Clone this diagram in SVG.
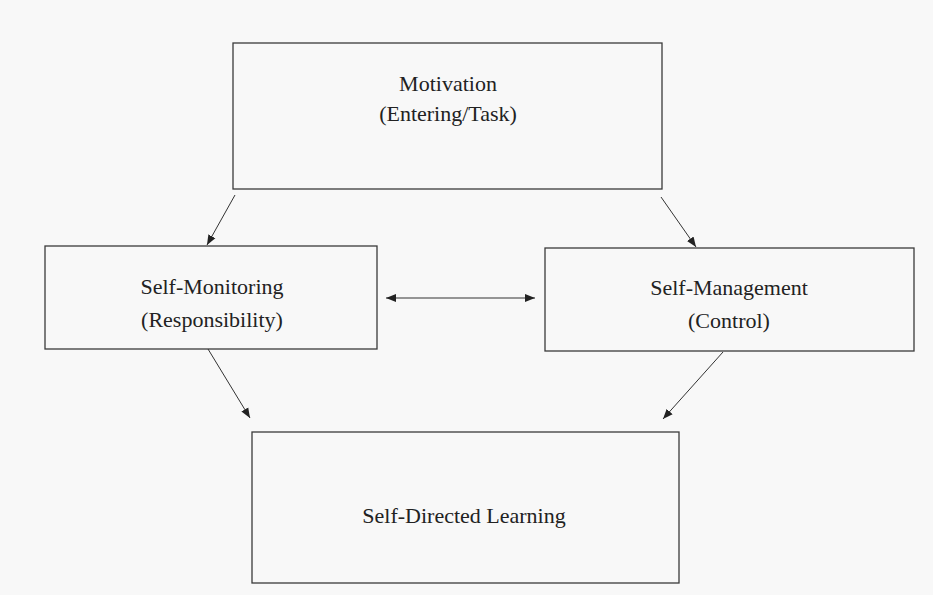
<svg xmlns="http://www.w3.org/2000/svg" width="933" height="595" viewBox="0 0 933 595">
<style>
.box{fill:none;stroke:#3a3a3a;stroke-width:1.3}
.t{font-family:"Liberation Serif","Times New Roman",serif;font-size:22px;fill:#222;text-anchor:middle}
.c{stroke:#333;stroke-width:1;fill:none;marker-end:url(#ah)}
</style>
<defs>
<marker id="ah" viewBox="0 0 10 10" refX="10" refY="5" markerWidth="10" markerHeight="10" markerUnits="userSpaceOnUse" orient="auto-start-reverse">
<path d="M0,1 L10,5 L0,9 z" fill="#222"/>
</marker>
</defs>
<rect width="933" height="595" fill="#f8f8f8"/>
<g id="motivation">
<rect class="box" x="233" y="43" width="429" height="146"/>
<text class="t" x="448" y="91">Motivation</text>
<text class="t" x="448" y="121">(Entering/Task)</text>
</g>
<g id="self-monitoring">
<rect class="box" x="45" y="246" width="332" height="103"/>
<text class="t" x="212" y="294">Self-Monitoring</text>
<text class="t" x="212" y="327">(Responsibility)</text>
</g>
<g id="self-management">
<rect class="box" x="545" y="248" width="369" height="103"/>
<text class="t" x="729" y="295">Self-Management</text>
<text class="t" x="729" y="328">(Control)</text>
</g>
<g id="self-directed">
<rect class="box" x="252" y="432" width="427" height="151"/>
<text class="t" x="464" y="523">Self-Directed Learning</text>
</g>
<g id="connectors">
<line class="c" x1="235" y1="195" x2="207" y2="245"/>
<line class="c" x1="661" y1="197" x2="696" y2="247"/>
<line class="c" x1="386" y1="298" x2="535" y2="298" marker-start="url(#ah)"/>
<line class="c" x1="208" y1="349" x2="250" y2="418"/>
<line class="c" x1="723" y1="352" x2="663" y2="419"/>
</g>
</svg>
